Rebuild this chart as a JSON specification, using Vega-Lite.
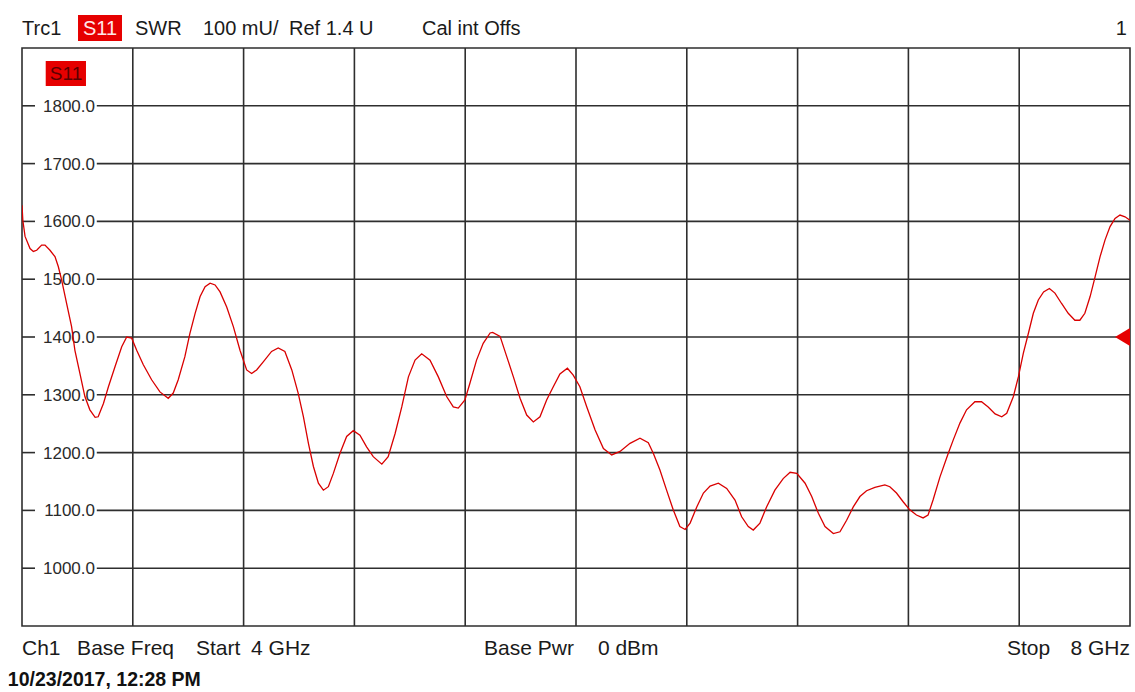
{
  "$schema": "https://vega.github.io/schema/vega-lite/v6.json",
  "width": 1108,
  "height": 578,
  "autosize": {"type": "none"},
  "padding": {"left": 22, "top": 48, "right": 5, "bottom": 66},
  "background": "white",
  "config": {
    "view": {"stroke": "#2e2e2e", "strokeWidth": 1.6},
    "text": {"font": "Liberation Sans", "color": "#1a1a1a"}
  },
  "datasets": {
    "trace": [
      {"f": 4.000, "swr": 1628}, {"f": 4.003, "swr": 1602}, {"f": 4.011, "swr": 1574}, {"f": 4.029, "swr": 1553},
      {"f": 4.041, "swr": 1548}, {"f": 4.053, "swr": 1550}, {"f": 4.071, "swr": 1559}, {"f": 4.083, "swr": 1559},
      {"f": 4.101, "swr": 1550}, {"f": 4.119, "swr": 1539}, {"f": 4.131, "swr": 1522}, {"f": 4.143, "swr": 1499},
      {"f": 4.161, "swr": 1458}, {"f": 4.179, "swr": 1418}, {"f": 4.191, "swr": 1377}, {"f": 4.209, "swr": 1337},
      {"f": 4.227, "swr": 1297}, {"f": 4.245, "swr": 1274}, {"f": 4.264, "swr": 1261}, {"f": 4.275, "swr": 1262},
      {"f": 4.294, "swr": 1285}, {"f": 4.312, "swr": 1314}, {"f": 4.336, "swr": 1349}, {"f": 4.360, "swr": 1383},
      {"f": 4.378, "swr": 1400}, {"f": 4.396, "swr": 1398}, {"f": 4.414, "swr": 1377}, {"f": 4.438, "swr": 1352},
      {"f": 4.468, "swr": 1326}, {"f": 4.498, "swr": 1305}, {"f": 4.528, "swr": 1294}, {"f": 4.546, "swr": 1303},
      {"f": 4.564, "swr": 1326}, {"f": 4.588, "swr": 1366}, {"f": 4.606, "swr": 1406}, {"f": 4.625, "swr": 1441},
      {"f": 4.643, "swr": 1470}, {"f": 4.661, "swr": 1487}, {"f": 4.679, "swr": 1493}, {"f": 4.697, "swr": 1490},
      {"f": 4.715, "swr": 1478}, {"f": 4.739, "swr": 1452}, {"f": 4.763, "swr": 1418}, {"f": 4.787, "swr": 1377},
      {"f": 4.811, "swr": 1343}, {"f": 4.829, "swr": 1337}, {"f": 4.847, "swr": 1343}, {"f": 4.871, "swr": 1357},
      {"f": 4.901, "swr": 1375}, {"f": 4.925, "swr": 1381}, {"f": 4.949, "swr": 1375}, {"f": 4.974, "swr": 1343},
      {"f": 4.997, "swr": 1303}, {"f": 5.016, "swr": 1262}, {"f": 5.034, "swr": 1216}, {"f": 5.052, "swr": 1176},
      {"f": 5.070, "swr": 1147}, {"f": 5.088, "swr": 1135}, {"f": 5.106, "swr": 1141}, {"f": 5.124, "swr": 1164},
      {"f": 5.148, "swr": 1199}, {"f": 5.172, "swr": 1228}, {"f": 5.196, "swr": 1238}, {"f": 5.220, "swr": 1230},
      {"f": 5.244, "swr": 1210}, {"f": 5.268, "swr": 1193}, {"f": 5.299, "swr": 1180}, {"f": 5.322, "swr": 1193},
      {"f": 5.347, "swr": 1233}, {"f": 5.371, "swr": 1279}, {"f": 5.395, "swr": 1331}, {"f": 5.419, "swr": 1360},
      {"f": 5.443, "swr": 1371}, {"f": 5.473, "swr": 1360}, {"f": 5.503, "swr": 1331}, {"f": 5.533, "swr": 1297},
      {"f": 5.557, "swr": 1279}, {"f": 5.575, "swr": 1277}, {"f": 5.599, "swr": 1291}, {"f": 5.617, "swr": 1320},
      {"f": 5.641, "swr": 1360}, {"f": 5.665, "swr": 1389}, {"f": 5.690, "swr": 1407}, {"f": 5.699, "swr": 1408},
      {"f": 5.726, "swr": 1401}, {"f": 5.750, "swr": 1366}, {"f": 5.774, "swr": 1331}, {"f": 5.798, "swr": 1294},
      {"f": 5.822, "swr": 1265}, {"f": 5.846, "swr": 1253}, {"f": 5.870, "swr": 1262}, {"f": 5.894, "swr": 1291},
      {"f": 5.918, "swr": 1314}, {"f": 5.942, "swr": 1336}, {"f": 5.969, "swr": 1346}, {"f": 5.990, "swr": 1334},
      {"f": 6.014, "swr": 1314}, {"f": 6.039, "swr": 1279}, {"f": 6.069, "swr": 1239}, {"f": 6.099, "swr": 1207},
      {"f": 6.129, "swr": 1196}, {"f": 6.159, "swr": 1202}, {"f": 6.195, "swr": 1216}, {"f": 6.231, "swr": 1225},
      {"f": 6.261, "swr": 1217}, {"f": 6.279, "swr": 1199}, {"f": 6.303, "swr": 1170}, {"f": 6.327, "swr": 1135},
      {"f": 6.351, "swr": 1101}, {"f": 6.375, "swr": 1072}, {"f": 6.394, "swr": 1067}, {"f": 6.412, "swr": 1078},
      {"f": 6.436, "swr": 1106}, {"f": 6.460, "swr": 1130}, {"f": 6.484, "swr": 1142}, {"f": 6.514, "swr": 1147},
      {"f": 6.544, "swr": 1138}, {"f": 6.574, "swr": 1118}, {"f": 6.598, "swr": 1089}, {"f": 6.622, "swr": 1072},
      {"f": 6.640, "swr": 1066}, {"f": 6.664, "swr": 1078}, {"f": 6.688, "swr": 1106}, {"f": 6.718, "swr": 1135},
      {"f": 6.748, "swr": 1155}, {"f": 6.773, "swr": 1166}, {"f": 6.797, "swr": 1164}, {"f": 6.827, "swr": 1147},
      {"f": 6.851, "swr": 1124}, {"f": 6.875, "swr": 1095}, {"f": 6.899, "swr": 1072}, {"f": 6.929, "swr": 1060},
      {"f": 6.953, "swr": 1063}, {"f": 6.977, "swr": 1083}, {"f": 7.001, "swr": 1106}, {"f": 7.025, "swr": 1124},
      {"f": 7.049, "swr": 1134}, {"f": 7.079, "swr": 1140}, {"f": 7.115, "swr": 1144}, {"f": 7.133, "swr": 1141},
      {"f": 7.157, "swr": 1130}, {"f": 7.181, "swr": 1115}, {"f": 7.205, "swr": 1101}, {"f": 7.229, "swr": 1092},
      {"f": 7.253, "swr": 1087}, {"f": 7.271, "swr": 1092}, {"f": 7.289, "swr": 1118}, {"f": 7.314, "swr": 1158},
      {"f": 7.344, "swr": 1199}, {"f": 7.362, "swr": 1222}, {"f": 7.386, "swr": 1251}, {"f": 7.410, "swr": 1274},
      {"f": 7.440, "swr": 1288}, {"f": 7.464, "swr": 1288}, {"f": 7.488, "swr": 1279}, {"f": 7.513, "swr": 1267},
      {"f": 7.537, "swr": 1262}, {"f": 7.555, "swr": 1268}, {"f": 7.579, "swr": 1297}, {"f": 7.597, "swr": 1331},
      {"f": 7.615, "swr": 1372}, {"f": 7.633, "swr": 1406}, {"f": 7.651, "swr": 1441}, {"f": 7.669, "swr": 1464},
      {"f": 7.688, "swr": 1478}, {"f": 7.709, "swr": 1484}, {"f": 7.729, "swr": 1476}, {"f": 7.753, "swr": 1458},
      {"f": 7.777, "swr": 1441}, {"f": 7.801, "swr": 1429}, {"f": 7.819, "swr": 1429}, {"f": 7.837, "swr": 1441},
      {"f": 7.856, "swr": 1470}, {"f": 7.874, "swr": 1504}, {"f": 7.892, "swr": 1539}, {"f": 7.910, "swr": 1568},
      {"f": 7.928, "swr": 1591}, {"f": 7.946, "swr": 1605}, {"f": 7.964, "swr": 1611}, {"f": 7.982, "swr": 1608},
      {"f": 8.000, "swr": 1602}
    ],
    "levels": [
      {"level": 1000}, {"level": 1100}, {"level": 1200}, {"level": 1300}, {"level": 1400},
      {"level": 1500}, {"level": 1600}, {"level": 1700}, {"level": 1800}
    ],
    "freqs": [
      {"freq": 4.4}, {"freq": 4.8}, {"freq": 5.2}, {"freq": 5.6}, {"freq": 6.0},
      {"freq": 6.4}, {"freq": 6.8}, {"freq": 7.2}, {"freq": 7.6}
    ]
  },
  "encoding": {
    "x": {"type": "quantitative", "scale": {"domain": [4, 8], "nice": false, "zero": false}, "axis": null},
    "y": {"type": "quantitative", "scale": {"domain": [900, 1900], "nice": false, "zero": false}, "axis": null}
  },
  "layer": [
    {
      "data": {"name": "freqs"},
      "mark": {"type": "rule", "color": "#2e2e2e", "strokeWidth": 1.6},
      "encoding": {"x": {"field": "freq", "type": "quantitative"}, "y": {"datum": 900}, "y2": {"datum": 1900}}
    },
    {
      "data": {"name": "levels"},
      "mark": {"type": "rule", "color": "#2e2e2e", "strokeWidth": 1.6},
      "encoding": {"x": {"datum": 4.0}, "x2": {"datum": 4.047}, "y": {"field": "level", "type": "quantitative"}}
    },
    {
      "data": {"name": "levels"},
      "mark": {"type": "rule", "color": "#2e2e2e", "strokeWidth": 1.6},
      "encoding": {"x": {"datum": 4.27}, "x2": {"datum": 8.0}, "y": {"field": "level", "type": "quantitative"}}
    },
    {
      "data": {"name": "levels"},
      "mark": {"type": "text", "align": "right", "baseline": "middle", "fontSize": 17, "color": "#2a2a2a", "dy": 1},
      "encoding": {
        "x": {"datum": 4.2635},
        "y": {"field": "level", "type": "quantitative"},
        "text": {"field": "level", "type": "quantitative", "format": ".1f"}
      }
    },
    {
      "data": {"name": "trace"},
      "mark": {"type": "line", "color": "#d90000", "strokeWidth": 1.3, "clip": true, "interpolate": "linear"},
      "encoding": {"x": {"field": "f", "type": "quantitative"}, "y": {"field": "swr", "type": "quantitative"}}
    },
    {
      "data": {"values": [{"ref": 1400}]},
      "mark": {"type": "point", "shape": "M 1 -1.2 L -1 0 L 1 1.2 Z", "filled": true, "color": "#e60000", "opacity": 1, "size": 225, "xOffset": -7.5},
      "encoding": {"x": {"datum": 8.0}, "y": {"field": "ref", "type": "quantitative"}}
    },
    {
      "data": {"values": [{"trace": "S11"}]},
      "mark": {"type": "rect", "color": "#e60000"},
      "encoding": {"x": {"datum": 4.0856}, "x2": {"datum": 4.231}, "y": {"datum": 1877.5}, "y2": {"datum": 1834.3}}
    },
    {
      "data": {"values": [{"trace": "S11"}]},
      "mark": {"type": "text", "align": "center", "baseline": "middle", "fontSize": 19, "color": "#5a0000", "dy": 1},
      "encoding": {"x": {"datum": 4.159}, "y": {"datum": 1855.9}, "text": {"field": "trace"}}
    },
    {
      "data": {"values": [{"trace": "S11"}]},
      "mark": {"type": "rect", "color": "#e60000", "clip": false},
      "encoding": {"x": {"datum": 4.2022}, "x2": {"datum": 4.361}, "y": {"datum": 1957.1}, "y2": {"datum": 1912.1}}
    },
    {
      "data": {"values": [
        {"label": "Trc1", "pos": 4.0},
        {"label": "SWR", "pos": 4.408},
        {"label": "100 mU/", "pos": 4.653},
        {"label": "Ref 1.4 U", "pos": 4.964},
        {"label": "Cal int Offs", "pos": 5.444}
      ]},
      "mark": {"type": "text", "align": "left", "baseline": "middle", "fontSize": 20, "dy": 1},
      "encoding": {"x": {"field": "pos", "type": "quantitative"}, "y": {"datum": 1934.6}, "text": {"field": "label"}}
    },
    {
      "data": {"values": [{"label": "S11"}]},
      "mark": {"type": "text", "align": "center", "baseline": "middle", "fontSize": 20, "color": "#ffe8e8", "dy": 1},
      "encoding": {"x": {"datum": 4.2816}, "y": {"datum": 1934.6}, "text": {"field": "label"}}
    },
    {
      "data": {"values": [{"label": "1"}]},
      "mark": {"type": "text", "align": "right", "baseline": "middle", "fontSize": 20, "dy": 1},
      "encoding": {"x": {"datum": 7.989}, "y": {"datum": 1934.6}, "text": {"field": "label"}}
    },
    {
      "data": {"values": [
        {"label": "Ch1", "pos": 4.0},
        {"label": "Base Freq", "pos": 4.199},
        {"label": "Start", "pos": 4.628},
        {"label": "4 GHz", "pos": 4.827},
        {"label": "Base Pwr", "pos": 5.668},
        {"label": "0 dBm", "pos": 6.079},
        {"label": "Stop", "pos": 7.556}
      ]},
      "mark": {"type": "text", "align": "left", "baseline": "middle", "fontSize": 21, "dy": 1},
      "encoding": {"x": {"field": "pos", "type": "quantitative"}, "y": {"datum": 861.9}, "text": {"field": "label"}}
    },
    {
      "data": {"values": [{"label": "8 GHz"}]},
      "mark": {"type": "text", "align": "right", "baseline": "middle", "fontSize": 21, "dy": 1},
      "encoding": {"x": {"datum": 8.0}, "y": {"datum": 861.9}, "text": {"field": "label"}}
    },
    {
      "data": {"values": [{"label": "10/23/2017, 12:28 PM"}]},
      "mark": {"type": "text", "align": "left", "baseline": "middle", "fontSize": 19.5, "fontWeight": "bold", "color": "#111111", "dy": 1},
      "encoding": {"x": {"datum": 3.949}, "y": {"datum": 808.3}, "text": {"field": "label"}}
    }
  ]
}
